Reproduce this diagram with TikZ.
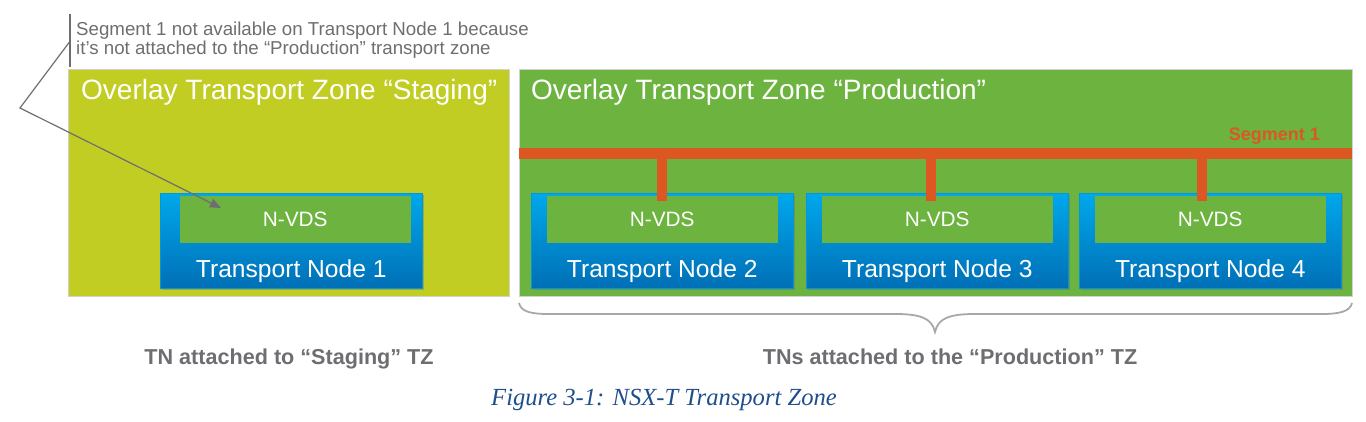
\documentclass[tikz,border=0pt]{standalone}
\usepackage{fontspec}
\setmainfont{Liberation Sans}
\newfontfamily\capfont{Liberation Serif}
\usetikzlibrary{arrows.meta,shadows}
\definecolor{stg}{HTML}{C1CD23}
\definecolor{prd}{HTML}{6DB33F}
\definecolor{segc}{HTML}{DC5722}
\definecolor{txtgray}{HTML}{6D6E71}
\definecolor{bluetop}{HTML}{00A8EC}
\definecolor{bluebot}{HTML}{006FB6}
\definecolor{capblue}{HTML}{1F4E8C}
\definecolor{bracegray}{HTML}{A8A8A8}
\begin{document}
\begin{tikzpicture}[x=1pt,y=-1pt,
  zone/.style={draw=black!18,line width=0.6pt,anchor=north west,inner sep=0pt},
  zonetitle/.style={anchor=base west,text=white,font=\fontsize{28}{32}\selectfont,inner sep=0pt},
  tnbox/.style={anchor=north west,inner sep=0pt,minimum width=262pt,minimum height=95pt,
     top color=bluetop,bottom color=bluebot,draw=bluetop!70!bluebot,line width=0.5pt,
     drop shadow={shadow xshift=1.5pt,shadow yshift=-2pt,opacity=0.35,fill=black!60}},
  nvds/.style={anchor=north,inner sep=0pt,minimum width=231pt,minimum height=47pt,fill=prd,
     text=white,font=\fontsize{20.8}{24}\selectfont},
  tnlabel/.style={anchor=base,text=white,inner sep=0pt,font=\fontsize{24.6}{28}\selectfont},
  segline/.style={draw=segc,line width=10.5pt},
  capgray/.style={text=txtgray,inner sep=0pt,font=\bfseries\fontsize{21.6}{25}\selectfont,anchor=base},
]
\useasboundingbox (0,0) rectangle (1366,422);

% zones
\node[zone,fill=stg,minimum width=441pt,minimum height=227pt] (stg) at (68,69) {};
\node[zone,fill=prd,minimum width=833pt,minimum height=227pt] (prd) at (519,69) {};
\node[zonetitle] (stgt) at (81,100) {Overlay Transport Zone “Staging”};
\node[zonetitle] (prdt) at (531,100) {Overlay Transport Zone “Production”};

% segment bar
\coordinate (barL) at (519,153.5);
\coordinate (barR) at (1352,153.5);
\draw[segline] (barL) -- (barR);
\node[anchor=base east,inner sep=0pt,text=segc,font=\bfseries\fontsize{18}{20}\selectfont] (segt) at (1320,141) {Segment 1};

% transport nodes
\node[tnbox] (tn1) at (160,193) {};
\node[tnbox] (tn2) at (531,193) {};
\node[tnbox] (tn3) at (806,193) {};
\node[tnbox] (tn4) at (1079,193) {};
\node[nvds] (nv1) at ([xshift=4pt,yshift=-3pt]tn1.north) {N-VDS};
\foreach \i in {2,3,4}{
  \node[nvds] (nv\i) at ([yshift=-3pt]tn\i.north) {N-VDS};
}
\foreach \i in {1,2,3,4}{
  \path (tn\i.south) ++(0,-11.5) node[tnlabel] (tl\i) {Transport Node \i};
}

% stubs
\coordinate (s2) at (662,153.5);
\coordinate (s3) at (931,153.5);
\coordinate (s4) at (1202,153.5);
\foreach \i in {2,3,4}{
  \draw[segline] (s\i) -- ([yshift=-5pt]s\i |- nv\i.north);
}

% annotation
\draw[txtgray,line width=1.6pt] (70,14) -- (70,67);
\node[anchor=base west,inner sep=0pt,text=txtgray,align=left,
  font=\fontsize{18.7}{19.5}\selectfont] (ann) at (76,55)
  {Segment 1 not available on Transport Node 1 because\\it’s not attached to the “Production” transport zone};
\coordinate (a0) at (69.5,42);
\coordinate (a1) at (20,108);
\coordinate (tip) at (221,208);
\draw[txtgray,line width=1.2pt,-{Triangle[length=11pt,width=9pt]}] (a0) -- (a1) -- (tip);

% brace
\coordinate (bl) at (519,303);
\coordinate (br) at (1352,303);
\coordinate (bm) at (935,332);
\draw[bracegray,line width=1.8pt] (bl) .. controls (521,312) and (532,314) .. (548,314)
  -- (895,314) .. controls (920,314) and (932,318) .. (bm)
  .. controls (938,318) and (950,314) .. (975,314)
  -- (1322,314) .. controls (1338,314) and (1350,312) .. (br);

% captions
\node[capgray] (c1) at (289,364) {TN attached to “Staging” TZ};
\node[capgray] (c2) at (950,364) {TNs attached to the “Production” TZ};
\node[anchor=base,inner sep=0pt,text=capblue,font=\capfont\itshape\fontsize{24.6}{28}\selectfont] (fig) at (664,405)
  {Figure 3-1: NSX-T Transport Zone};
\end{tikzpicture}
\end{document}
